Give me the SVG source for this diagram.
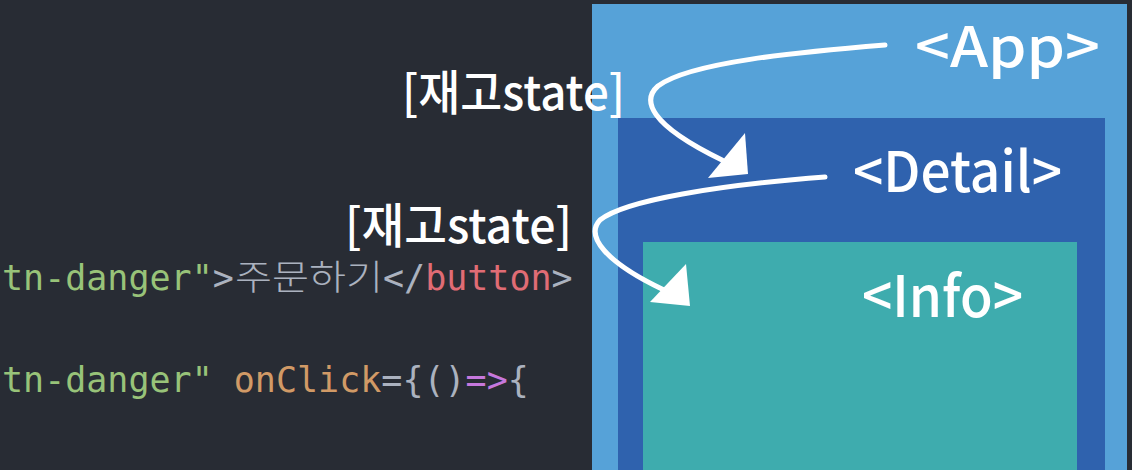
<svg xmlns="http://www.w3.org/2000/svg" width="1132" height="470" viewBox="0 0 1132 470">
<style>
.code{font-family:"DejaVu Sans Mono","Noto Sans CJK KR",monospace;font-size:35px}
.g{fill:#98C379}.w{fill:#ABB2BF}.r{fill:#E06C75}.o{fill:#D19A66}.p{fill:#C678DD}
.kr{fill:#ABB2BF;font-family:"Noto Sans CJK KR",sans-serif;font-weight:300;font-size:35px}
.lbl{font-family:"Noto Sans CJK KR","Noto Sans",sans-serif;fill:#FFFFFF;font-weight:500}
.conn{fill:none;stroke:#FFFFFF;stroke-width:5;stroke-linecap:round}
.head{fill:#FFFFFF}
</style>
<rect x="0" y="0" width="1132" height="470" fill="#282C34"/>
<g id="code">
<text class="code" y="290"><tspan x="2" class="g">tn-danger"</tspan><tspan class="w">&gt;</tspan></text>
<text class="kr" x="235" y="290" textLength="148" lengthAdjust="spacingAndGlyphs">주문하기</text>
<text class="code" y="290"><tspan x="383" class="w">&lt;/</tspan><tspan class="r">button</tspan><tspan class="w">&gt;</tspan></text>
<text class="code" y="392"><tspan x="2" class="g">tn-danger"</tspan><tspan class="w"> </tspan><tspan class="o">onClick</tspan><tspan class="w">={()</tspan><tspan class="p">=&gt;</tspan><tspan class="w">{</tspan></text>
</g>
<g id="app">
<rect x="592" y="4" width="535" height="466" fill="#56A2D8"/>
<text class="lbl" x="915" y="67" font-size="55" textLength="185" lengthAdjust="spacingAndGlyphs">&lt;App&gt;</text>
</g>
<g id="detail">
<rect x="618" y="118" width="487" height="352" fill="#2F62AE"/>
<text class="lbl" x="853" y="192" font-size="56" textLength="209" lengthAdjust="spacingAndGlyphs">&lt;Detail&gt;</text>
</g>
<g id="info">
<rect x="643" y="242" width="434" height="228" fill="#3EACAE"/>
<text class="lbl" x="862" y="317" font-size="57" textLength="161" lengthAdjust="spacingAndGlyphs">&lt;Info&gt;</text>
</g>
<g id="connectors">
<path class="conn" d="M885,45 C800,52 690,62 658,86 C642,100 648,124 722,160"/>
<polygon class="head" points="745,133 748,174 708,178"/>
<path class="conn" d="M825,177 C720,185 625,200 600,220 C585,236 605,262 664,290"/>
<polygon class="head" points="686,264 690,306 650,302"/>
</g>
<g id="labels">
<text class="lbl" x="402" y="110" font-size="48" textLength="223" lengthAdjust="spacingAndGlyphs">[재고state]</text>
<text class="lbl" x="345" y="243" font-size="48" textLength="227" lengthAdjust="spacingAndGlyphs">[재고state]</text>
</g>
</svg>
